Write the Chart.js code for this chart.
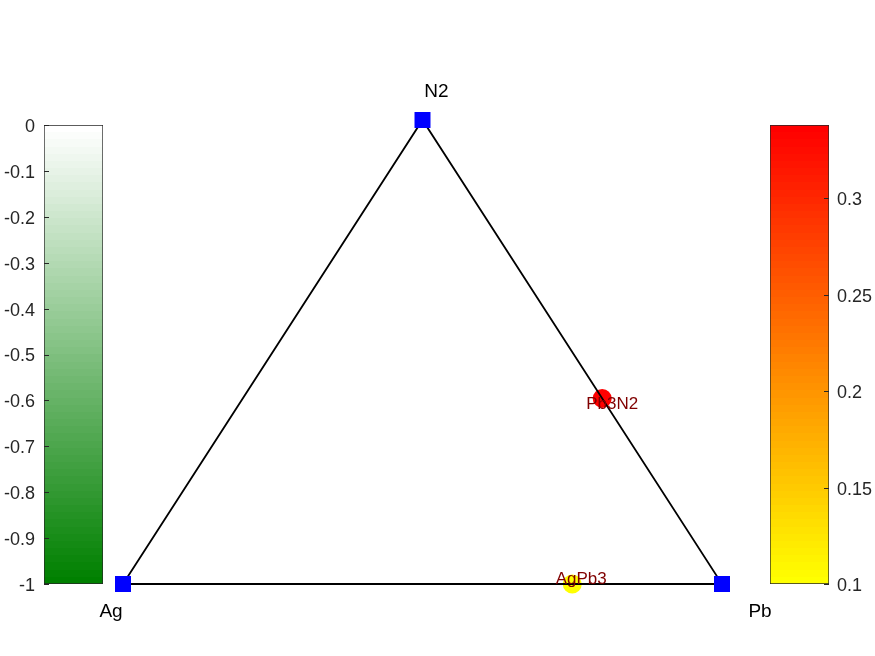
<!DOCTYPE html>
<html>
<head>
<meta charset="utf-8">
<script src="https://cdn.jsdelivr.net/npm/chart.js@4.4.1/dist/chart.umd.min.js"></script>
<style>
    html, body { margin: 0; padding: 0; background: #fff; }
    .stage { position: relative; width: 875px; height: 656px; overflow: hidden; }
    .stage canvas { position: absolute; left: 0; top: 0; }
</style>
</head>
<body>
<div class="stage">
    <canvas id="greenBar" width="875" height="656"></canvas>
    <canvas id="heatBar" width="875" height="656"></canvas>
    <canvas id="ternary" width="875" height="656"></canvas>
</div>
<script>
// corners of the Ag - Pb - N2 triangle (fractions of Pb and N2)
const elements = ['Ag', 'Pb', 'N2'];
const elementPb = [0, 1, 0];
const elementN2 = [0, 0, 1];

// compounds placed inside / on the triangle
const compounds = ['Pb3N2', 'AgPb3'];
const compoundPb = [0.6, 0.75];
const compoundN2 = [0.4, 0];
const compoundValue = [0.338, 0.1];

// colorbars
const greenRange = [-1, 0];
const greenTicks = [-1, -0.9, -0.8, -0.7, -0.6, -0.5, -0.4, -0.3, -0.2, -0.1, 0];
const heatRange = [0.1, 0.338];
const heatTicks = [0.1, 0.15, 0.2, 0.25, 0.3];

const FONT = 'Liberation Sans, Arial, Helvetica, sans-serif';
const AXIS_COLOR = '#262626';
const BANDS = 64;

// t = 0 bottom of the bar, 1 top
function greenColor(t) {
    const g = Math.round(128 + 127 * t);
    const rb = Math.round(255 * t);
    return `rgb(${rb},${g},${rb})`;
}
function heatColor(t) {
    return `rgb(255,${Math.round(255 * (1 - t))},0)`;
}
function heatOf(v) {
    const t = (v - heatRange[0]) / (heatRange[1] - heatRange[0]);
    return heatColor(Math.min(1, Math.max(0, t)));
}

function bandGradient(ctx, colorFn) {
    const area = ctx.chart.chartArea;
    if (!area) return null;
    const grad = ctx.chart.ctx.createLinearGradient(0, area.bottom, 0, area.top);
    for (let i = 0; i < BANDS; i++) {
        const c = colorFn(i / (BANDS - 1));
        grad.addColorStop(i / BANDS, c);
        grad.addColorStop((i + 1) / BANDS, c);
    }
    return grad;
}

// small tick marks pointing into the bar, like a matlab colorbar
const innerTicks = {
    id: 'innerTicks',
    afterDraw(chart, args, opts) {
        const { ctx, chartArea } = chart;
        const scale = chart.scales.y;
        ctx.save();
        ctx.strokeStyle = AXIS_COLOR;
        ctx.lineWidth = 1;
        scale.ticks.forEach(t => {
            const y = Math.round(scale.getPixelForValue(t.value)) + 0.5;
            ctx.beginPath();
            if (opts.side === 'left') {
                ctx.moveTo(chartArea.left, y);
                ctx.lineTo(chartArea.left + 5, y);
            } else {
                ctx.moveTo(chartArea.right - 5, y);
                ctx.lineTo(chartArea.right, y);
            }
            ctx.stroke();
        });
        ctx.restore();
    }
};

function colorBar(id, range, ticks, colorFn, side, padding, axisWidth) {
    return new Chart(document.getElementById(id), {
        type: 'bar',
        data: {
            labels: [''],
            datasets: [{
                data: [range],
                backgroundColor: ctx => bandGradient(ctx, colorFn),
                borderColor: AXIS_COLOR,
                borderWidth: 1,
                borderSkipped: false,
                barPercentage: 1,
                categoryPercentage: 1,
            }],
        },
        options: {
            responsive: false,
            animation: false,
            devicePixelRatio: 1,
            layout: { padding },
            plugins: {
                legend: { display: false },
                tooltip: { enabled: false },
                innerTicks: { side },
            },
            scales: {
                x: { display: false },
                y: {
                    position: side,
                    min: range[0],
                    max: range[1],
                    afterBuildTicks: s => { s.ticks = ticks.map(v => ({ value: v })); },
                    afterFit: s => { s.width = axisWidth; },
                    grid: { display: false, drawTicks: false },
                    border: { display: false },
                    ticks: {
                        color: AXIS_COLOR,
                        font: { family: FONT, size: 18 },
                        padding: side === 'left' ? 9 : 8,
                        labelOffset: 2,
                        callback: v => String(Math.round(v * 100) / 100),
                    },
                },
            },
        },
        plugins: [innerTicks],
    });
}

colorBar('greenBar', greenRange, greenTicks, greenColor, 'left',
    { left: 0, top: 125, right: 772, bottom: 72 }, 44);
colorBar('heatBar', heatRange, heatTicks, heatColor, 'right',
    { left: 770, top: 125, right: 0, bottom: 72 }, 46);

// ternary -> cartesian: x = Pb + N2/2, y = N2
const toXY = (pb, n2) => ({ x: pb + n2 / 2, y: n2 });
const cornerPoints = elements.map((e, i) => toXY(elementPb[i], elementN2[i]));
const compoundPoints = compounds.map((c, i) => toXY(compoundPb[i], compoundN2[i]));

const labelPlugin = {
    id: 'ternaryLabels',
    afterDatasetsDraw(chart) {
        const { ctx, scales: { x, y } } = chart;
        const cornerOffset = { Ag: [-12, 28], Pb: [38, 28], N2: [14, -28] };
        const compoundOffset = { Pb3N2: [10, 6], AgPb3: [9, -5] };
        ctx.save();
        ctx.textAlign = 'center';
        ctx.textBaseline = 'middle';
        ctx.fillStyle = '#000';
        ctx.font = `19px ${FONT}`;
        elements.forEach((e, i) => {
            const p = cornerPoints[i];
            const [dx, dy] = cornerOffset[e];
            ctx.fillText(e, x.getPixelForValue(p.x) + dx, y.getPixelForValue(p.y) + dy);
        });
        ctx.fillStyle = '#800000';
        ctx.font = `17px ${FONT}`;
        compounds.forEach((c, i) => {
            const p = compoundPoints[i];
            const [dx, dy] = compoundOffset[c];
            ctx.fillText(c, x.getPixelForValue(p.x) + dx, y.getPixelForValue(p.y) + dy);
        });
        ctx.restore();
    }
};

new Chart(document.getElementById('ternary'), {
    type: 'scatter',
    data: {
        datasets: [
            {
                label: 'elements',
                data: cornerPoints,
                pointStyle: 'rect',
                pointRadius: 11.3,
                pointBackgroundColor: '#0000ff',
                pointBorderWidth: 0,
                clip: false,
            },
            {
                label: 'hull',
                data: [cornerPoints[0], cornerPoints[1], cornerPoints[2], cornerPoints[0]],
                showLine: true,
                borderColor: '#000',
                borderWidth: 1.8,
                pointRadius: 0,
                clip: false,
            },
            {
                label: 'compounds',
                data: compoundPoints,
                pointStyle: 'circle',
                pointRadius: 9.5,
                pointBackgroundColor: compoundValue.map(heatOf),
                pointBorderWidth: 0,
                clip: false,
            },
        ],
    },
    options: {
        responsive: false,
        animation: false,
        devicePixelRatio: 1,
        layout: { padding: { left: 123, top: 120, right: 153, bottom: 72 } },
        plugins: {
            legend: { display: false },
            tooltip: { enabled: false },
        },
        scales: {
            x: { type: 'linear', min: 0, max: 1, display: false },
            y: { type: 'linear', min: 0, max: 1, display: false },
        },
    },
    plugins: [labelPlugin],
});
</script>
</body>
</html>
